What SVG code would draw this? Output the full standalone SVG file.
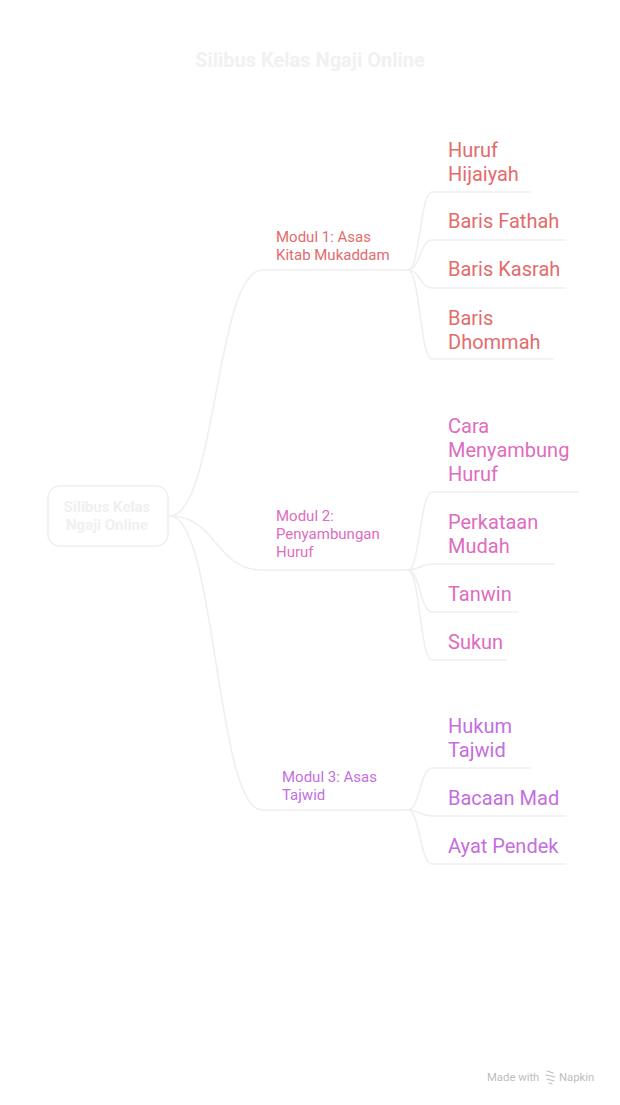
<svg xmlns="http://www.w3.org/2000/svg" width="620" height="1105" viewBox="0 0 620 1105">
<style>
.ln{fill:none;stroke:#efefef;stroke-width:1.6;stroke-linecap:round}
.ttl{font-family:Roboto,"Liberation Sans",sans-serif;font-weight:bold;font-size:20px;fill:#f1f1f1}
.root{font-family:Roboto,"Liberation Sans",sans-serif;font-weight:bold;font-size:15px;fill:#f0f0f0}
.mod{font-family:Roboto,"Liberation Sans",sans-serif;font-size:15px}
.leaf{font-family:Roboto,"Liberation Sans",sans-serif;font-size:20px}
.c1{fill:#e46b6b}.c2{fill:#de6cc0}.c3{fill:#c46ee0}
.ft{font-family:Roboto,"Liberation Sans",sans-serif;font-size:11.3px;fill:#bdbdbd}
</style>
<rect width="620" height="1105" fill="#ffffff"/>
<text class="ttl" x="310" y="67" text-anchor="middle">Silibus Kelas Ngaji Online</text>
<g id="connectors">
<path class="ln" d="M170,516 C216,516 216,270 262,270 H408"/>
<path class="ln" d="M170,516 C216,516 216,570 262,570 H408"/>
<path class="ln" d="M170,516 C216,516 216,810 262,810 H408"/>
<path class="ln" d="M408,270 C420,270 420,192 432,192 H530"/>
<path class="ln" d="M408,270 C420,270 420,240 432,240 H566"/>
<path class="ln" d="M408,270 C420,270 420,288 432,288 H566"/>
<path class="ln" d="M408,270 C420,270 420,359 432,359 H553"/>
<path class="ln" d="M408,570 C420,570 420,492 432,492 H578"/>
<path class="ln" d="M408,570 C420,570 420,564 432,564 H554"/>
<path class="ln" d="M408,570 C420,570 420,612 432,612 H518"/>
<path class="ln" d="M408,570 C420,570 420,660 432,660 H506"/>
<path class="ln" d="M408,810 C420,810 420,768 432,768 H530"/>
<path class="ln" d="M408,810 C420,810 420,816 432,816 H566"/>
<path class="ln" d="M408,810 C420,810 420,864 432,864 H566"/>
</g>
<g id="root">
<rect x="48" y="486" width="120" height="60" rx="12" fill="#ffffff" stroke="#efefef" stroke-width="1.6"/>
<text class="root" x="107" y="512" text-anchor="middle">Silibus Kelas</text>
<text class="root" x="107" y="530" text-anchor="middle">Ngaji Online</text>
</g>
<g id="modul1">
<text class="mod c1" x="276" y="242">Modul 1: Asas</text>
<text class="mod c1" x="276" y="260">Kitab Mukaddam</text>
</g>
<g id="modul2">
<text class="mod c2" x="276" y="521">Modul 2:</text>
<text class="mod c2" x="276" y="539">Penyambungan</text>
<text class="mod c2" x="276" y="557">Huruf</text>
</g>
<g id="modul3">
<text class="mod c3" x="282" y="782">Modul 3: Asas</text>
<text class="mod c3" x="282" y="800">Tajwid</text>
</g>
<g id="huruf-hijaiyah"><text class="leaf c1" x="448" y="157">Huruf</text><text class="leaf c1" x="448" y="181">Hijaiyah</text></g>
<g id="baris-fathah"><text class="leaf c1" x="448" y="228">Baris Fathah</text></g>
<g id="baris-kasrah"><text class="leaf c1" x="448" y="276">Baris Kasrah</text></g>
<g id="baris-dhommah"><text class="leaf c1" x="448" y="325">Baris</text><text class="leaf c1" x="448" y="349">Dhommah</text></g>
<g id="cara-menyambung"><text class="leaf c2" x="448" y="433">Cara</text><text class="leaf c2" x="448" y="457">Menyambung</text><text class="leaf c2" x="448" y="481">Huruf</text></g>
<g id="perkataan-mudah"><text class="leaf c2" x="448" y="529">Perkataan</text><text class="leaf c2" x="448" y="553">Mudah</text></g>
<g id="tanwin"><text class="leaf c2" x="448" y="601">Tanwin</text></g>
<g id="sukun"><text class="leaf c2" x="448" y="649">Sukun</text></g>
<g id="hukum-tajwid"><text class="leaf c3" x="448" y="733">Hukum</text><text class="leaf c3" x="448" y="757">Tajwid</text></g>
<g id="bacaan-mad"><text class="leaf c3" x="448" y="805">Bacaan Mad</text></g>
<g id="ayat-pendek"><text class="leaf c3" x="448" y="853">Ayat Pendek</text></g>
<g id="footer">
<text class="ft" x="487" y="1081">Made with</text>
<path d="M547,1071 L553,1073 M546,1075 L555,1077 M547,1079 L554,1081 M549,1083 L552,1084" stroke="#bdbdbd" stroke-width="1.2" fill="none" stroke-linecap="round"/>
<text class="ft" x="559" y="1081">Napkin</text>
</g>
</svg>
